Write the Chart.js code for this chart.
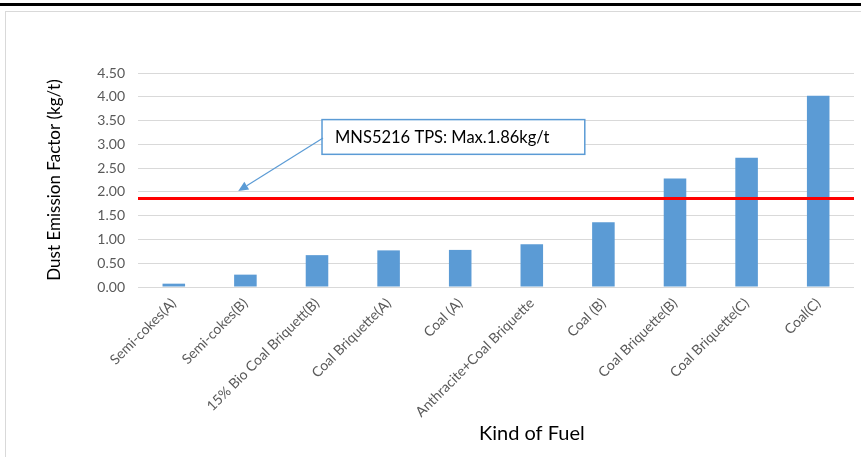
<!DOCTYPE html>
<html><head><meta charset="utf-8">
<script src="https://cdn.jsdelivr.net/npm/chart.js@4.4.0/dist/chart.umd.min.js"></script>
<style>
html,body{margin:0;padding:0;background:#fff;width:861px;height:457px;overflow:hidden;}
#topline{position:absolute;left:0;top:3px;width:861px;height:3px;background:#000;}
#frame{position:absolute;left:5px;top:11px;width:900px;height:500px;border:1px solid #d9d9d9;}
#c{position:absolute;left:0;top:0;}
</style></head><body>
<div id="topline"></div><div id="frame"></div>
<canvas id="c" width="861" height="457"></canvas>
<script>
const categories = ["Semi-cokes(A)", "Semi-cokes(B)", "15% Bio Coal Briquett(B)", "Coal Briquette(A)", "Coal (A)", "Anthracite+Coal Briquette", "Coal (B)", "Coal Briquette(B)", "Coal Briquette(C)", "Coal(C)"];
const emissionFactors = [0.07, 0.26, 0.67, 0.77, 0.78, 0.90, 1.36, 2.28, 2.72, 4.02];
const standardLimit = 1.86;
const yAxisMin = 0, yAxisMax = 4.5, yAxisStep = 0.5;
const yAxisTitle = "Dust Emission Factor (kg/t)";
const xAxisTitle = "Kind of Fuel";
const calloutText = "MNS5216 TPS: Max.1.86kg/t";

const FONT = "Lato, 'Open Sans', sans-serif";

// callout placement in data coordinates (category index, value)
const callout = { x0: 2.07, x1: 5.74, yTop: 3.52, yBottom: 2.79, tipX: 0.9, tipY: 2.02 };

const overlay = {
  id: 'overlay',
  afterDatasetsDraw(chart) {
    const {ctx, scales: {x, y}, chartArea} = chart;
    ctx.save();
    const bx0 = x.getPixelForValue(callout.x0), bx1 = x.getPixelForValue(callout.x1);
    const by0 = y.getPixelForValue(callout.yTop), by1 = y.getPixelForValue(callout.yBottom);
    ctx.fillStyle = '#fff';
    ctx.fillRect(bx0, by0, bx1 - bx0, by1 - by0);
    ctx.strokeStyle = '#5b9bd5';
    ctx.lineWidth = 1.5;
    ctx.strokeRect(bx0, by0, bx1 - bx0, by1 - by0);
    ctx.fillStyle = '#000';
    ctx.font = "16.5px " + FONT;
    ctx.textBaseline = 'middle';
    ctx.textAlign = 'left';
    ctx.fillText(calloutText, bx0 + 13, (by0 + by1) / 2 + 1);
    const sx = bx0 + 1, sy = (by0 + by1) / 2 + 1;
    const tx = x.getPixelForValue(callout.tipX), ty = y.getPixelForValue(callout.tipY);
    const ang = Math.atan2(ty - sy, tx - sx);
    const hl = 10, hw = 4.5;
    const baseX = tx - hl * Math.cos(ang), baseY = ty - hl * Math.sin(ang);
    ctx.strokeStyle = '#5b9bd5';
    ctx.lineWidth = 1.2;
    ctx.beginPath(); ctx.moveTo(sx, sy); ctx.lineTo(baseX, baseY); ctx.stroke();
    ctx.fillStyle = '#5b9bd5';
    ctx.beginPath();
    ctx.moveTo(tx, ty);
    ctx.lineTo(baseX + hw * Math.sin(ang), baseY - hw * Math.cos(ang));
    ctx.lineTo(baseX - hw * Math.sin(ang), baseY + hw * Math.cos(ang));
    ctx.closePath(); ctx.fill();
    ctx.fillStyle = '#000';
    ctx.font = "20px " + FONT;
    ctx.textAlign = 'center';
    ctx.textBaseline = 'middle';
    ctx.fillText(xAxisTitle, chartArea.left + chartArea.width * 0.55, 434);
    ctx.restore();
  }
};

new Chart(document.getElementById('c'), {
  type: 'bar',
  data: {
    labels: categories,
    datasets: [
      {
        type: 'line',
        data: [{x: 0, y: standardLimit}, {x: 1, y: standardLimit}],
        xAxisID: 'xLine',
        yAxisID: 'y',
        borderColor: '#ff0000',
        borderWidth: 3,
        pointRadius: 0,
        order: 0
      },
      {
        type: 'bar',
        data: emissionFactors,
        xAxisID: 'x',
        yAxisID: 'y',
        backgroundColor: '#5b9bd5',
        borderWidth: 0,
        grouped: false,
        categoryPercentage: 1,
        barPercentage: 0.315,
        order: 1
      }
    ]
  },
  options: {
    responsive: false,
    animation: false,
    events: [],
    layout: { padding: { top: 73, right: 7, left: 0, bottom: 0 } },
    plugins: { legend: { display: false }, tooltip: { enabled: false } },
    scales: {
      x: {
        type: 'category',
        offset: true,
        grid: { display: false, drawTicks: false },
        border: { display: false },
        ticks: {
          color: '#595959',
          font: { family: FONT, size: 14 },
          minRotation: 45, maxRotation: 45,
          padding: 8,
          autoSkip: false
        },
        afterFit(scale) { scale.height = 170; }
      },
      xLine: { type: 'linear', display: false, offset: false, min: 0, max: 1, grid: { offset: false } },
      y: {
        min: yAxisMin, max: yAxisMax,
        grid: { color: '#d9d9d9', lineWidth: 1, drawTicks: false },
        border: { display: false },
        ticks: {
          stepSize: yAxisStep,
          color: '#595959',
          font: { family: FONT, size: 14 },
          padding: 13,
          callback: v => Number(v).toFixed(2)
        },
        title: {
          display: true,
          text: yAxisTitle,
          color: '#000',
          font: { family: FONT, size: 17 },
          padding: { top: 44, bottom: 0 }
        },
        afterFit(scale) { scale.width = 138; }
      }
    }
  },
  plugins: [overlay]
});
</script>
</body></html>
